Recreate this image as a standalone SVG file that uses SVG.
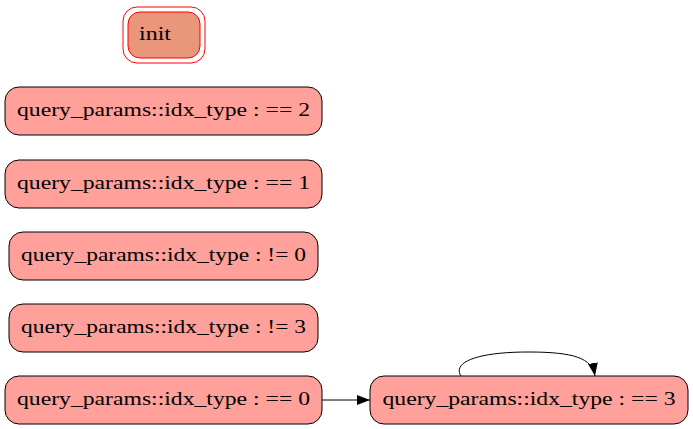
<svg xmlns="http://www.w3.org/2000/svg" width="693" height="429" viewBox="0 0 693 429">
<style>
.n{fill:#ffa09a;stroke:#000;stroke-width:1}
.t{font-family:"Liberation Serif",serif;font-size:19px;text-anchor:middle;fill:#000}
.e{fill:none;stroke:#000;stroke-width:1}
</style>
<defs>
<marker id="ah" markerWidth="13" markerHeight="10" refX="13" refY="5" orient="auto" markerUnits="userSpaceOnUse">
<polygon points="0,0 13,5 0,10" fill="#000"/>
</marker>
</defs>
<rect width="693" height="429" fill="#fff"/>
<g id="init">
<rect x="123" y="7" width="82" height="56" rx="14" fill="none" stroke="#ff0000"/>
<rect x="128" y="12" width="72" height="46" rx="12" fill="#e9967a" stroke="#ff0000"/>
<text class="t" x="155" y="40" textLength="32" lengthAdjust="spacingAndGlyphs">init</text>
</g>
<g id="n_eq2">
<rect class="n" x="5" y="87" width="317" height="48" rx="14"/>
<text class="t" x="163.5" y="116" textLength="293" lengthAdjust="spacingAndGlyphs">query_params::idx_type : == 2</text>
</g>
<g id="n_eq1">
<rect class="n" x="5" y="160" width="317" height="48" rx="14"/>
<text class="t" x="163.5" y="189" textLength="293" lengthAdjust="spacingAndGlyphs">query_params::idx_type : == 1</text>
</g>
<g id="n_ne0">
<rect class="n" x="9" y="232" width="309" height="48" rx="14"/>
<text class="t" x="163.5" y="261" textLength="285" lengthAdjust="spacingAndGlyphs">query_params::idx_type : != 0</text>
</g>
<g id="n_ne3">
<rect class="n" x="9" y="304" width="309" height="48" rx="14"/>
<text class="t" x="163.5" y="333" textLength="285" lengthAdjust="spacingAndGlyphs">query_params::idx_type : != 3</text>
</g>
<g id="n_eq0">
<rect class="n" x="5" y="376" width="317" height="48" rx="14"/>
<text class="t" x="163.5" y="405" textLength="293" lengthAdjust="spacingAndGlyphs">query_params::idx_type : == 0</text>
</g>
<g id="n_eq3">
<rect class="n" x="370" y="376" width="318" height="48" rx="14"/>
<text class="t" x="529" y="405" textLength="293" lengthAdjust="spacingAndGlyphs">query_params::idx_type : == 3</text>
</g>
<g id="edges">
<path class="e" d="M322,400 L370,400" marker-end="url(#ah)"/>
<path class="e" d="M461,376 C452,362 478,352 528,352 C574,352 592,358 595,376" marker-end="url(#ah)"/>
</g>
</svg>
